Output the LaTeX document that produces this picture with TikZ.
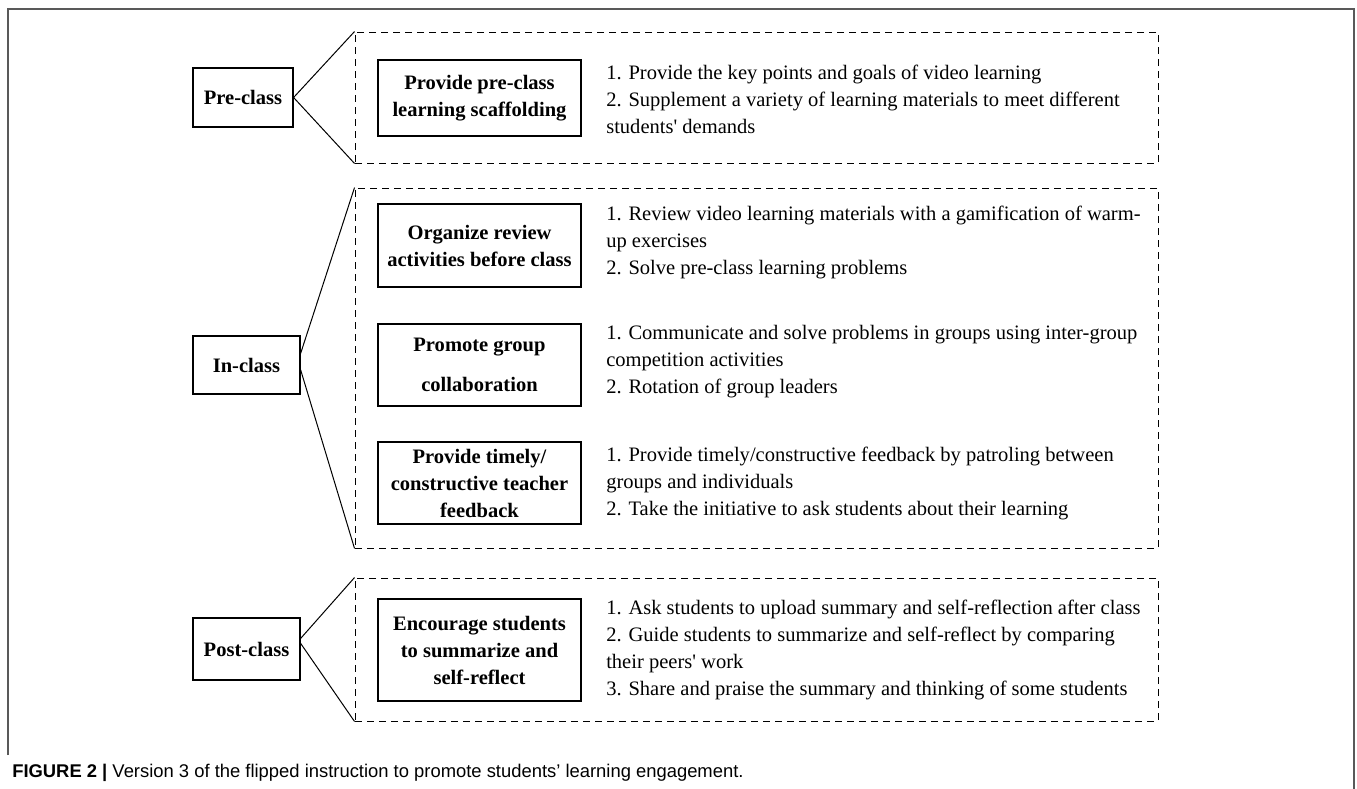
\documentclass[tikz,border=0pt]{standalone}
\usepackage{fontspec}
\setmainfont{Liberation Serif}
\newfontfamily\capfont{Liberation Sans}

\begin{document}
\begin{tikzpicture}[x=0.75pt,y=0.75pt,yscale=-1,xscale=1,
  stagebox/.style={draw, line width=0.7pt, dash pattern=on 5.25pt off 3.75pt, minimum width=602.25pt, inner sep=0pt},
  classbox/.style={draw, line width=0.9pt, inner sep=0pt, font=\fontsize{15.4}{20.25}\selectfont\bfseries},
  actbox/.style={draw, line width=0.9pt, inner sep=0pt, minimum width=152.25pt, align=center, font=\fontsize{15.4}{20.25}\selectfont\bfseries},
  itemtext/.style={anchor=west, inner sep=0pt, align=left, font=\fontsize{15.4}{20.25}\selectfont}]
\useasboundingbox (0,0) rectangle (1357,789);

%Shape: Frame
\draw [color=black!65, line width=1.4pt] (8,755) -- (8,9) -- (1354,9) -- (1354,789) ;

%Shape: Dashed Rectangles
\node [stagebox, minimum height=98.25pt] (preframe) at (756.5,97.5) {};
\node [stagebox, minimum height=270pt] (inframe) at (756.5,368) {};
\node [stagebox, minimum height=107.25pt] (postframe) at (756.5,649.5) {};

%Shape: Rectangles, stages
\node [classbox, minimum width=75pt, minimum height=44.25pt] (preclass) at (243,97.5) {Pre-class};
\node [classbox, minimum width=80.25pt, minimum height=43.5pt] (inclass) at (246.5,365) {In-class};
\node [classbox, minimum width=80.25pt, minimum height=46.5pt] (postclass) at (246.5,649) {Post-class};

%Straight Lines
\draw [line width=0.75pt] (preclass.east) -- (preframe.north west) ;
\draw [line width=0.75pt] (preclass.east) -- (preframe.south west) ;
\draw [line width=0.75pt] (inclass.12) -- (inframe.north west) ;
\draw [line width=0.75pt] (inclass.-5) -- (inframe.south west) ;
\draw [line width=0.75pt] (postclass.11) -- (postframe.north west) ;
\draw [line width=0.75pt] (postclass.6) -- (postframe.south west) ;

%Shape: Rectangles, strategies
\node [actbox, minimum height=57pt] (scaffold) at (479.5,98) {Provide pre-class\\learning scaffolding};
\node [actbox, minimum height=62.25pt] (review) at (479.5,245.5) {Organize review\\activities before class};
\node [actbox, minimum height=61.5pt] (collab) at (479.5,365) {Promote group\\[9.75pt]collaboration};
\node [actbox, minimum height=61.5pt] (feedback) at (479.5,483) {Provide timely/\\constructive teacher\\feedback};
\node [actbox, minimum height=76.5pt] (reflect) at (479.5,650) {Encourage students\\to summarize and\\self-reflect};

% Text Node
\node [itemtext] (scaffoldtxt) at (606,99) {1. Provide the key points and goals of video learning\\2. Supplement a variety of learning materials to meet different\\students\textquotesingle{} demands};
% Text Node
\node [itemtext] (reviewtxt) at (606,242) {1. Review video learning materials with a gamification of warm-\\up exercises\\2. Solve pre-class learning problems};
% Text Node
\node [itemtext] (collabtxt) at (606,362) {1. Communicate and solve problems in groups using inter-group\\competition activities\\2. Rotation of group leaders};
% Text Node
\node [itemtext] (feedbacktxt) at (606,483) {1. Provide timely/constructive feedback by patroling between\\groups and individuals\\2. Take the initiative to ask students about their learning};
% Text Node
\node [itemtext] (reflecttxt) at (606,650) {1. Ask students to upload summary and self-reflection after class\\2. Guide students to summarize and self-reflect by comparing\\their peers\textquotesingle{} work\\3. Share and praise the summary and thinking of some students};

% Caption
\node [anchor=west, inner sep=0pt, font=\capfont\fontsize{13.8}{16}\selectfont] (caption) at (12,773) {\textbf{FIGURE 2 |} Version 3 of the flipped instruction to promote students’ learning engagement.};

\end{tikzpicture}
\end{document}
